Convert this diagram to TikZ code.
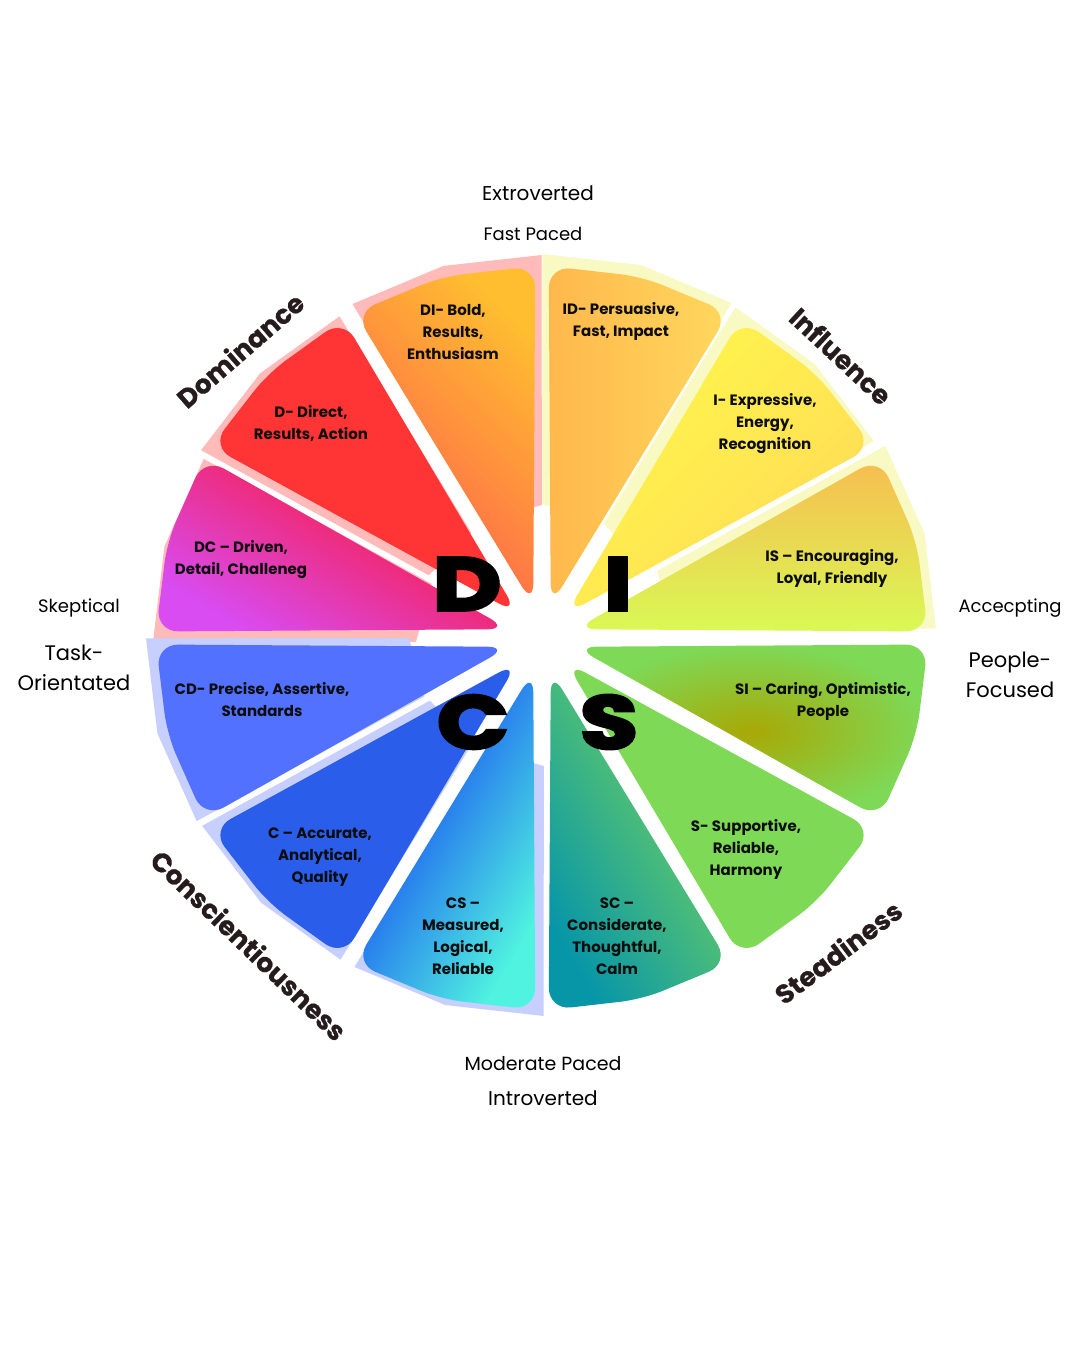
\documentclass[tikz,border=0pt]{standalone}
\usepackage{fontspec}
\usepackage{graphicx}
\setmainfont{Poppins}
\newfontfamily\catfont{Poppins}[BoldFeatures={FakeBold=0.6}]
\newfontfamily\discfont{Poppins}[BoldFeatures={FakeBold=4}]
\usetikzlibrary{calc}

\definecolor{dpale}{HTML}{FFBABA}
\definecolor{ipale}{HTML}{F9F9C3}
\definecolor{cpale}{HTML}{C6CFFE}
\definecolor{diTop}{HTML}{FFBD30}
\definecolor{diBot}{HTML}{FF5A4E}
\definecolor{dRed}{HTML}{FF3535}
\definecolor{dcTop}{HTML}{FF1222}
\definecolor{dcBot}{HTML}{D84CF2}
\definecolor{idL}{HTML}{FFB84C}
\definecolor{idR}{HTML}{FFD85E}
\definecolor{iTop}{HTML}{FFF84A}
\definecolor{iBot}{HTML}{FFDA57}
\definecolor{isTop}{HTML}{F8BC50}
\definecolor{isBot}{HTML}{D9F955}
\definecolor{siIn}{HTML}{A8A805}
\definecolor{siOut}{HTML}{7ED957}
\definecolor{sGreen}{HTML}{7ED957}
\definecolor{scTop}{HTML}{7ED957}
\definecolor{scBot}{HTML}{0796A8}
\definecolor{csTop}{HTML}{50F3E0}
\definecolor{csBot}{HTML}{0A28F7}
\definecolor{cBlue}{HTML}{2A5DE9}
\definecolor{cdBlue}{HTML}{5271FF}
\definecolor{labelink}{HTML}{0D0D0D}
\definecolor{catink}{HTML}{261C1E}

\tikzset{
  wedgelabel/.style={font=\fontsize{15}{22}\selectfont\bfseries, text=labelink, align=center},
  smallside/.style={font=\fontsize{18}{26}\selectfont, text=black, align=center},
  bigside/.style={font=\fontsize{21}{30}\selectfont, text=black, align=center},
  catname/.style={font=\catfont\bfseries\fontsize{26.5}{27}\selectfont, text=catink},
  discletter/.style={font=\discfont\bfseries\fontsize{75}{75}\selectfont, text=black, inner sep=0pt},
  wDI/.style={top color=diTop, bottom color=diBot, shading angle=-45},
  wD/.style={fill=dRed},
  wDC/.style={top color=dcTop, bottom color=dcBot, shading angle=-30},
  wID/.style={left color=idL, right color=idR},
  wI/.style={top color=iTop, bottom color=iBot, shading angle=45},
  wIS/.style={top color=isTop, bottom color=isBot, shading angle=0},
  wSI/.style={inner color=siIn, outer color=siOut},
  wS/.style={fill=sGreen},
  wSC/.style={top color=scTop, bottom color=scBot, shading angle=-60},
  wCS/.style={top color=csTop, bottom color=csBot, shading angle=-120},
  wC/.style={fill=cBlue},
  wCD/.style={fill=cdBlue},
}

\begin{document}
\begin{tikzpicture}[x=1pt, y=1pt]
  \useasboundingbox (-542,638) rectangle (538,-712);
  \fill[white] (-542,638) rectangle (538,-712);

  % pale backing sectors
  \foreach \a/\sx/\sy/\col in {105/3/5/dpale, 135/-4/-4/dpale, 165/2/-7/dpale,
      75/-3/6/ipale, 45/-5/5/ipale, 15/3/6/ipale,
      -165/-5/3/cpale, -135/-3/4/cpale, -105/5/0/cpale}{
    \fill[\col, shift={(\sx,\sy)}] (\a+13.6:128) -- (\a+14.5:391 and 378)
      -- (\a:393 and 380) -- (\a-14.5:391 and 378) -- (\a-13.6:128) -- cycle;
  }

  % coloured wedges
  \foreach \a/\sty in {105/wDI, 135/wD, 165/wDC, 75/wID, 45/wI, 15/wIS,
      -15/wSI, -45/wS, -75/wSC, -105/wCS, -135/wC, -165/wCD}{
    \path[\sty, rounded corners=22pt] (\a:34) -- (\a+14:386 and 372)
      -- (\a:388 and 374) -- (\a-14:386 and 372) -- cycle;
  }

  % wedge texts
  \node[wedgelabel] (labDI) at (-89,306) {DI- Bold,\\Results,\\Enthusiasm};
  \node[wedgelabel] (labD) at (-231,215) {D- Direct,\\Results, Action};
  \node[wedgelabel] (labDC) at (-301,78) {DC – Driven,\\Detail, Challeneg};
  \node[wedgelabel] (labID) at (79,317) {ID- Persuasive,\\Fast, Impact};
  \node[wedgelabel] (labI) at (223,214) {I- Expressive,\\Energy,\\Recognition};
  \node[wedgelabel] (labIS) at (290,70) {IS – Encouraging,\\Loyal, Friendly};
  \node[wedgelabel] (labSI) at (281,-63) {SI – Caring, Optimistic,\\People};
  \node[wedgelabel] (labS) at (204,-211) {S- Supportive,\\Reliable,\\Harmony};
  \node[wedgelabel] (labSC) at (75,-298) {SC –\\Considerate,\\Thoughtful,\\Calm};
  \node[wedgelabel] (labCS) at (-79,-298) {CS –\\Measured,\\Logical,\\Reliable};
  \node[wedgelabel] (labC) at (-222,-219) {C – Accurate,\\Analytical,\\Quality};
  \node[wedgelabel] (labCD) at (-280,-62) {CD- Precise, Assertive,\\Standards};

  % the four letters
  \node[discletter] (bigD) at (-75,54) {\scalebox{1.25}[1]{D}};
  \node[discletter] (bigI) at (76,54) {\scalebox{1.25}[1]{I}};
  \node[discletter] (bigC) at (-69,-84) {\scalebox{1.25}[1]{C}};
  \node[discletter] (bigS) at (67,-84) {\scalebox{1.25}[1]{S}};

  % style names round the wheel
  \node[catname, rotate=41] (catD) at (-302,288) {Dominance};
  \node[catname, rotate=-43] (catI) at (299,282) {Influence};
  \node[catname, rotate=37] (catS) at (296,-314) {Steadiness};
  \node[catname, rotate=-44] (catC) at (-293,-307) {Conscientiousness};

  % axis texts
  \node[bigside, font=\fontsize{20}{30}\selectfont] (extro) at (-4,445) {Extroverted};
  \node[smallside] (fast) at (-9,404) {Fast Paced};
  \node[smallside] (skept) at (-463,30) {Skeptical};
  \node[bigside] (task) at (-468,-30) {Task-\\Orientated};
  \node[smallside] (accept) at (468,30) {Accecpting};
  \node[bigside] (people) at (468,-37) {People-\\Focused};
  \node[smallside, font=\fontsize{19}{26}\selectfont] (moder) at (1,-426) {Moderate Paced};
  \node[bigside, font=\fontsize{20}{30}\selectfont] (intro) at (1,-460) {Introverted};
\end{tikzpicture}
\end{document}
